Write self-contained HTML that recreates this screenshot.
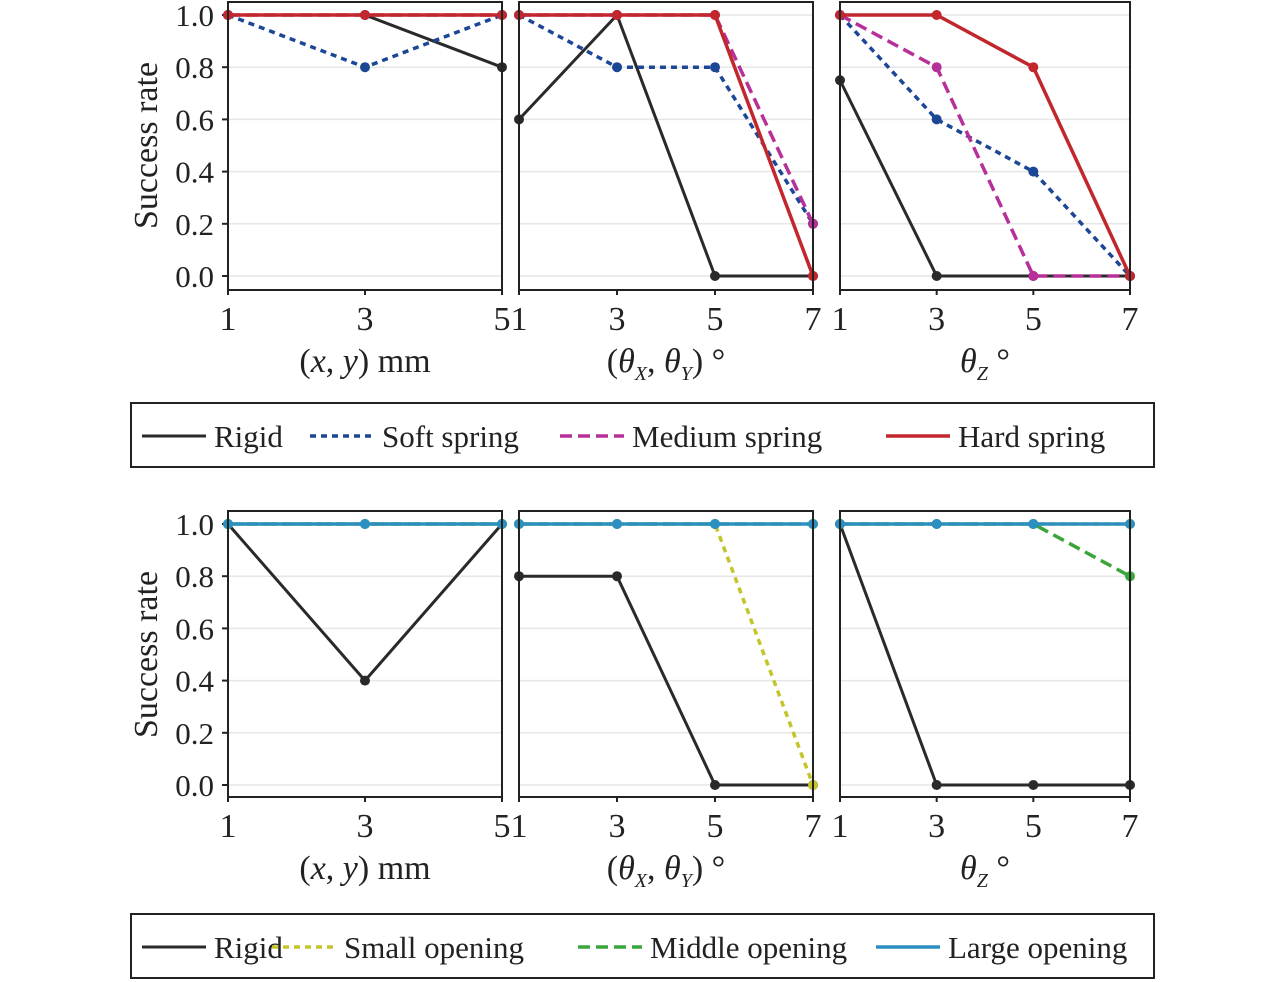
<!DOCTYPE html>
<html><head><meta charset="utf-8"><style>
html,body{margin:0;padding:0;background:#fff;}
svg{display:block;font-family:"Liberation Serif",serif;}
</style></head><body>
<svg id="c" width="1284" height="982"></svg>
<script>
const xTicks3 = [1,3,5];
const xTicks4 = [1,3,5,7];
const yTicks = [0,0.2,0.4,0.6,0.8,1.0];
const yTickLabels = ["0.0","0.2","0.4","0.6","0.8","1.0"];
// top row series
const topRigid = [[1,1,0.8],[0.6,1,0,0],[0.75,0,0,0]];
const topSoft = [[1,0.8,1],[1,0.8,0.8,0.2],[1,0.6,0.4,0]];
const topMedium = [[1,1,1],[1,1,1,0.2],[1,0.8,0,0]];
const topHard = [[1,1,1],[1,1,1,0],[1,1,0.8,0]];
// bottom row series
const botRigid = [[1,0.4,1],[0.8,0.8,0,0],[1,0,0,0]];
const botSmall = [[1,1,1],[1,1,1,0],[1,1,1,1]];
const botMiddle = [[1,1,1],[1,1,1,1],[1,1,1,0.8]];
const botLarge = [[1,1,1],[1,1,1,1],[1,1,1,1]];
const xTitles = ["(x, y) mm","(θX, θY) °","θZ °"];
const topLegend = ["Rigid","Soft spring","Medium spring","Hard spring"];
const botLegend = ["Rigid","Small opening","Middle opening","Large opening"];

const NS="http://www.w3.org/2000/svg";
const svg=document.getElementById('c');
function mk(tag,attrs,parent){const e=document.createElementNS(NS,tag);for(const k in attrs)e.setAttribute(k,attrs[k]);(parent||svg).appendChild(e);return e;}

const panelsX=[[228,502],[519,813],[840,1130]];
const rows=[{top:2,bottom:290,y1:15,y0:276},{top:511,bottom:797,y1:524,y0:785}];
const styles={
 rigid:{c:"#2a2a2a",w:3,d:""},
 soft:{c:"#1b4796",w:3.5,d:"6 5"},
 medium:{c:"#b72f98",w:3.5,d:"12 6"},
 hard:{c:"#c1272d",w:3.5,d:""},
 small:{c:"#c3c52b",w:3.5,d:"6 5"},
 middle:{c:"#3aa53a",w:3.5,d:"12 6"},
 large:{c:"#2b8fc2",w:3.5,d:""}
};
function yS(r,v){return r.y0+(r.y1-r.y0)*v;}
function xS(p,ticks,v){return p[0]+(p[1]-p[0])*(v-ticks[0])/(ticks[ticks.length-1]-ticks[0]);}

function drawRow(ri,series){
 const r=rows[ri];
 panelsX.forEach((p,pi)=>{
  const ticks=pi===0?xTicks3:xTicks4;
  const g=mk('g',{});
  
  
  yTicks.forEach((t,i)=>{
   const y=yS(r,t);
   const gl=mk('line',{x1:p[0],x2:p[1],y1:y,y2:y,stroke:"#e6e6e6","stroke-width":1.5},g);
   
   
   if(pi===0){
    mk('line',{x1:p[0]-6,x2:p[0],y1:y,y2:y,stroke:"#222","stroke-width":2},g);
    const tx=mk('text',{x:p[0]-14,y:y+11,"text-anchor":"end","font-size":31,fill:"#222"},g);
    tx.textContent=yTickLabels[i];
    
    
   }
  });
  ticks.forEach(t=>{
   const x=xS(p,ticks,t);
   mk('line',{x1:x,x2:x,y1:r.bottom,y2:r.bottom+5,stroke:"#222","stroke-width":2},g);
   const tx=mk('text',{x:x,y:r.bottom+40,"text-anchor":"middle","font-size":34,fill:"#222"},g);
   tx.textContent=t;
   
   
  });
  series.forEach(s=>{
   const st=styles[s.k];const vals=s.v[pi];
   const pts=vals.map((v,i)=>xS(p,ticks,ticks[i])+","+yS(r,v)).join(" ");
   const pl=mk('polyline',{points:pts,fill:"none",stroke:st.c,"stroke-width":st.w,"stroke-dasharray":st.d},g);
   
   
   vals.forEach((v,i)=>{
    const cc=mk('circle',{cx:xS(p,ticks,ticks[i]),cy:yS(r,v),r:5,fill:st.c},g);
    
    
   });
  });
  const fr=mk('rect',{x:p[0],y:r.top,width:p[1]-p[0],height:r.bottom-r.top,fill:"none",stroke:"#222","stroke-width":2},g);
  
  
  // x title
  const cx=(p[0]+p[1])/2, ty=r.bottom+82;
  const t=mk('text',{x:cx,y:ty,"text-anchor":"middle","font-size":34,fill:"#222"},g);
  
  
  if(pi===0){t.innerHTML='(<tspan font-style="italic">x</tspan>, <tspan font-style="italic">y</tspan>) mm';}
  else if(pi===1){t.innerHTML='(<tspan font-style="italic">θ</tspan><tspan font-size="20" dy="8" font-style="italic">X</tspan><tspan dy="-8">, </tspan><tspan font-style="italic">θ</tspan><tspan font-size="20" dy="8" font-style="italic">Y</tspan><tspan dy="-8">) °</tspan>';}
  else {t.innerHTML='<tspan font-style="italic">θ</tspan><tspan font-size="20" dy="8" font-style="italic">Z</tspan><tspan dy="-8"> °</tspan>';}
 });
 const yt=mk('text',{transform:`translate(157,${(r.y0+r.y1)/2}) rotate(-90)`,"text-anchor":"middle","font-size":34,fill:"#222"});
 yt.textContent="Success rate";
 
 
}
drawRow(0,[{k:"rigid",v:topRigid},{k:"soft",v:topSoft},{k:"medium",v:topMedium},{k:"hard",v:topHard}]);
drawRow(1,[{k:"rigid",v:botRigid},{k:"small",v:botSmall},{k:"middle",v:botMiddle},{k:"large",v:botLarge}]);

function legend(y,labels,keys,xs){
 const g=mk('g',{});
 
 
 mk('rect',{x:131,y:y,width:1023,height:64,fill:"#fff",stroke:"#222","stroke-width":2},g);
 labels.forEach((l,i)=>{
  const st=styles[keys[i]];const x=xs[i];const cy=y+33;
  const e=mk('g',{},g);
  
  
  mk('line',{x1:x,x2:x+64,y1:cy,y2:cy,stroke:st.c,"stroke-width":st.w,"stroke-dasharray":st.d},e);
  const t=mk('text',{x:x+72,y:cy+11,"font-size":31,fill:"#222"},e);
  t.textContent=l;
 });
}
legend(403,topLegend,["rigid","soft","medium","hard"],[142,310,560,886]);
legend(914,botLegend,["rigid","small","middle","large"],[142,272,578,876]);
</script>
</body></html>
